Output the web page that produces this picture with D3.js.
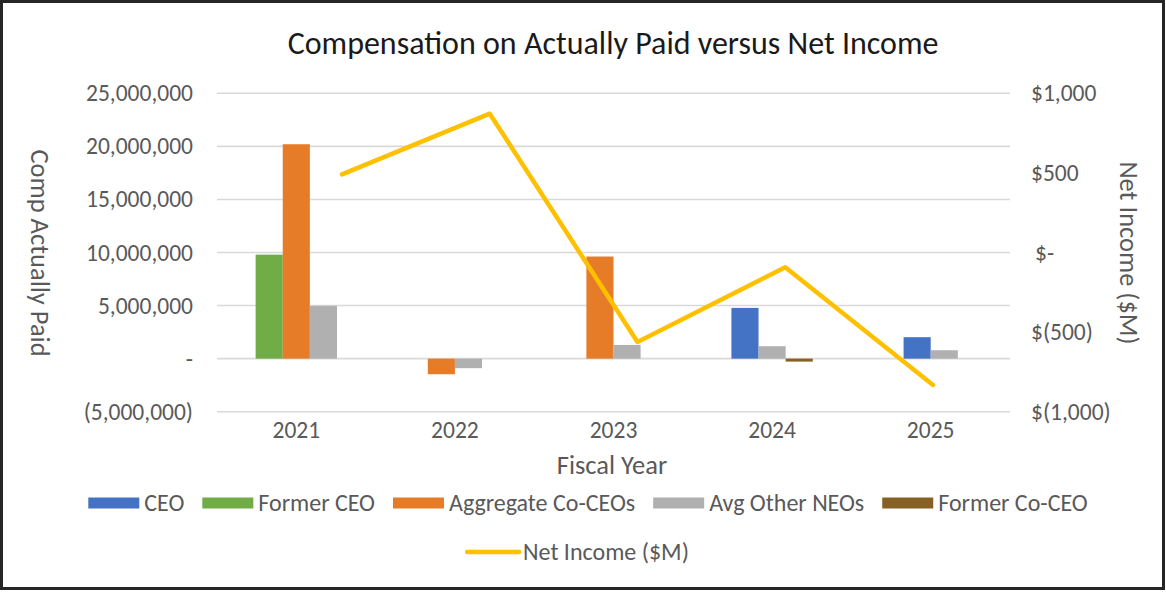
<!DOCTYPE html>
<html>
<head>
<meta charset="utf-8">
<script src="https://cdn.jsdelivr.net/npm/d3@7"></script>
<style>
  body { margin: 0; background: #fff; }
  text { font-family: Carlito, Lato, sans-serif; }
</style>
</head>
<body>
<div id="chart"></div>
<script>
// data
var years = ["2021", "2022", "2023", "2024", "2025"];
var ceo          = [null, null, null, 4780000, 2020000];
var formerCeo    = [9800000, null, null, null, null];
var aggCoCeos    = [20200000, -1470000, 9620000, null, null];
var avgOtherNeos = [4970000, -900000, 1290000, 1170000, 790000];
var formerCoCeo  = [null, null, null, -280000, null];
var netIncome    = [491, 872, -562, -93, -832];

var leftTicks  = [-5000000, 0, 5000000, 10000000, 15000000, 20000000, 25000000];
var rightTicks = [-1000, -500, 0, 500, 1000];

var seriesNames  = ["CEO", "Former CEO", "Aggregate Co-CEOs", "Avg Other NEOs", "Former Co-CEO"];
var seriesValues = [ceo, formerCeo, aggCoCeos, avgOtherNeos, formerCoCeo];
var seriesColors = ["#4472C4", "#70AD47", "#E67C28", "#B0B0B0", "#876024"];
var lineName  = "Net Income ($M)";
var lineColor = "#FFC000";

var W = 1166, H = 592;
var plot = {left: 217, right: 1010, top: 93.3, bottom: 411.7};
var textColor = "#595959";
var fontFam = "Carlito, Lato, sans-serif";

var svg = d3.select("#chart").append("svg")
    .attr("width", W)
    .attr("height", H);

svg.append("rect")
    .attr("x", 1.5).attr("y", 1.5)
    .attr("width", W - 4).attr("height", H - 5)
    .attr("fill", "#fff")
    .attr("stroke", "#262626")
    .attr("stroke-width", 3);

var x = d3.scaleBand()
    .domain(years)
    .range([plot.left, plot.right]);

var yL = d3.scaleLinear()
    .domain([-5000000, 25000000])
    .range([plot.bottom, plot.top]);

var yR = d3.scaleLinear()
    .domain([-1000, 1000])
    .range([plot.bottom, plot.top]);

// the line sits on its own (secondary) horizontal axis
var xLine = d3.scalePoint()
    .domain(years)
    .range([342, 933]);

/**  gridlines  **/
svg.append("g")
    .selectAll("line")
    .data(leftTicks)
    .enter()
    .append("line")
      .attr("x1", plot.left)
      .attr("x2", plot.right)
      .attr("y1", function(d) { return yL(d); })
      .attr("y2", function(d) { return yL(d); })
      .attr("stroke", "#D9D9D9")
      .attr("stroke-width", 1.6);

/**  axes  **/
var fmtL = function(d) {
  if (d == 0) return "-";
  var s = d3.format(",")(Math.abs(d));
  return d < 0 ? "(" + s + ")" : s;
};
var fmtR = function(d) {
  if (d == 0) return "$-";
  var s = d3.format(",")(Math.abs(d));
  return d < 0 ? "$(" + s + ")" : "$" + s;
};

var gL = svg.append("g")
    .attr("transform", "translate(" + plot.left + ",0)")
    .call(d3.axisLeft(yL).tickValues(leftTicks).tickFormat(fmtL).tickSize(0).tickPadding(24));
var gR = svg.append("g")
    .attr("transform", "translate(" + plot.right + ",0)")
    .call(d3.axisRight(yR).tickValues(rightTicks).tickFormat(fmtR).tickSize(0).tickPadding(21));
var gX = svg.append("g")
    .attr("transform", "translate(0," + plot.bottom + ")")
    .call(d3.axisBottom(x).tickSize(0).tickPadding(10));

[gL, gR, gX].forEach(function(g) {
  g.select(".domain").remove();
  g.selectAll("text")
    .style("font-family", fontFam)
    .style("font-size", "23.5px")
    .attr("fill", textColor);
});
gR.selectAll(".tick text")
    .attr("dx", function(d) { return d == 0 ? 4 : 0; });

/**  bars: only the series that have a value in a year, centred on it  **/
var barW = x.bandwidth() * 0.171;
years.forEach(function(yr, i) {
  var present = [];
  seriesValues.forEach(function(vals, s) {
    if (vals[i] != null) present.push({s: s, v: vals[i]});
  });
  var cx = x(yr) + x.bandwidth() / 2;
  var inner = d3.scaleBand()
      .domain(present.map(function(p) { return p.s; }))
      .range([cx - present.length * barW / 2, cx + present.length * barW / 2]);
  svg.append("g")
    .selectAll("rect")
    .data(present)
    .enter()
    .append("rect")
      .attr("x", function(d) { return inner(d.s); })
      .attr("width", inner.bandwidth())
      .attr("y", function(d) { return yL(Math.max(0, d.v)); })
      .attr("height", function(d) { return Math.abs(yL(d.v) - yL(0)); })
      .attr("fill", function(d) { return seriesColors[d.s]; });
});

/**  net income line  **/
var line = d3.line()
    .x(function(d, i) { return xLine(years[i]); })
    .y(function(d) { return yR(d); });

svg.append("path")
    .datum(netIncome)
    .attr("d", line)
    .attr("fill", "none")
    .attr("stroke", lineColor)
    .attr("stroke-width", 4.5)
    .attr("stroke-linecap", "round")
    .attr("stroke-linejoin", "round");

/**  titles  **/
svg.append("text")
    .attr("x", 613).attr("y", 54)
    .attr("text-anchor", "middle")
    .style("font-size", "32px")
    .attr("fill", "#1a1a1a")
    .text("Compensation on Actually Paid versus Net Income");

svg.append("text")
    .attr("transform", "translate(31,253) rotate(90)")
    .attr("text-anchor", "middle")
    .style("font-size", "26.5px")
    .attr("fill", textColor)
    .text("Comp Actually Paid");

svg.append("text")
    .attr("transform", "translate(1120,253) rotate(90)")
    .attr("text-anchor", "middle")
    .style("font-size", "26.5px")
    .attr("fill", textColor)
    .text("Net Income ($M)");

svg.append("text")
    .attr("x", 612).attr("y", 474)
    .attr("text-anchor", "middle")
    .style("font-size", "26.5px")
    .attr("fill", textColor)
    .text("Fiscal Year");

/**  legend  **/
var legendSize = "24px";
function legendRow(items, y, cx, gap) {
  var g = svg.append("g");
  var pos = 0;
  items.forEach(function(it) {
    var item = g.append("g").attr("transform", "translate(" + pos + ",0)");
    if (it.kind == "bar") {
      item.append("rect")
        .attr("x", 0).attr("y", -5.5)
        .attr("width", 51).attr("height", 11)
        .attr("fill", it.color);
    } else {
      item.append("line")
        .attr("x1", 2).attr("x2", 54)
        .attr("y1", 0).attr("y2", 0)
        .attr("stroke", it.color)
        .attr("stroke-width", 4.5)
        .attr("stroke-linecap", "round");
    }
    var t = item.append("text")
        .attr("x", it.kind == "bar" ? 56 : 58)
        .attr("dy", "0.33em")
        .style("font-size", legendSize)
        .attr("fill", textColor)
        .text(it.name);
    pos += (it.kind == "bar" ? 56 : 58) + t.node().getComputedTextLength() + gap;
  });
  var total = pos - gap;
  g.attr("transform", "translate(" + (cx - total / 2) + "," + y + ")");
}

legendRow(seriesNames.map(function(n, i) {
  return {kind: "bar", name: n, color: seriesColors[i]};
}), 503, 588, 18);
legendRow([{kind: "line", name: lineName, color: lineColor}], 552, 577, 0);
</script>
</body>
</html>
